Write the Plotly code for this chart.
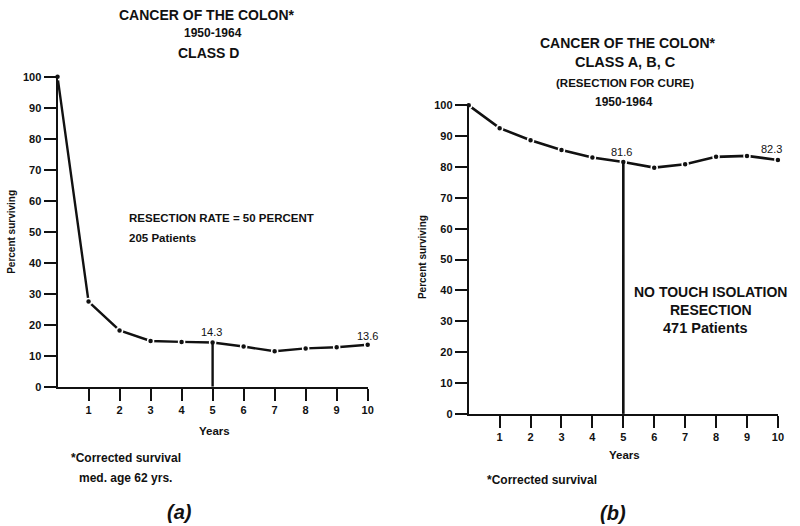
import plotly.graph_objects as go

years = [0, 1, 2, 3, 4, 5, 6, 7, 8, 9, 10]
class_d = [100, 27.5, 18.2, 14.8, 14.5, 14.3, 13.0, 11.5, 12.4, 12.8, 13.6]
class_abc = [100, 92.6, 88.7, 85.5, 83.1, 81.6, 79.8, 80.9, 83.3, 83.6, 82.3]
tick_years = [1, 2, 3, 4, 5, 6, 7, 8, 9, 10]
y_ticks = [0, 10, 20, 30, 40, 50, 60, 70, 80, 90, 100]

FONT = "Liberation Sans"
INK = "#111111"
W, H = 800, 526

# small correction so placed pixels land where wanted in the photographed page
def fx(px):
    return ((px - 0.5) / 0.992) / W

def fy(py):
    return 1 - ((py - 5.7) / 0.977) / H

fig = go.Figure()

def add_series(xa, ya, vals, lw):
    fig.add_trace(go.Scatter(x=years, y=vals, xaxis=xa, yaxis=ya, mode="lines+markers",
                             line=dict(color=INK, width=lw),
                             marker=dict(size=6, color=INK, line=dict(color="white", width=1.5)),
                             showlegend=False, cliponaxis=False))
    # vertical reference at year 5
    fig.add_trace(go.Scatter(x=[years[5], years[5]], y=[0, vals[5]], xaxis=xa, yaxis=ya,
                             mode="lines", line=dict(color=INK, width=lw), showlegend=False))

add_series("x", "y", class_d, 2.4)
add_series("x2", "y2", class_abc, 2.6)

axis_common = dict(showgrid=False, zeroline=False, showline=True, linecolor=INK, linewidth=2,
                   ticks="outside", tickcolor=INK, tickwidth=2, ticklen=12,
                   tickfont=dict(family=FONT, size=11, color=INK, weight="bold"))

fig.update_layout(
    width=W, height=H, margin=dict(l=0, r=0, t=0, b=0),
    paper_bgcolor="white", plot_bgcolor="white",
    xaxis=dict(domain=[fx(58), fx(368)], range=[0, 10], tickvals=tick_years, anchor="y", **axis_common),
    yaxis=dict(domain=[fy(386.5), fy(76.5)], range=[0, 100], tickvals=y_ticks, anchor="x", **axis_common),
    xaxis2=dict(domain=[fx(469), fx(778)], range=[0, 10], tickvals=tick_years, anchor="y2", **axis_common),
    yaxis2=dict(domain=[fy(413.5), fy(105)], range=[0, 100], tickvals=y_ticks, anchor="x2", **axis_common),
)

def txt(x, y, s, size=11, xanchor="center", angle=0, italic=False):
    fig.add_annotation(x=fx(x), y=fy(y), xref="paper", yref="paper", text=s,
                       showarrow=False, xanchor=xanchor, yanchor="middle", textangle=angle,
                       borderpad=0,
                       font=dict(family=FONT, size=size, color=INK, weight="bold",
                                 style="italic" if italic else "normal"))

# Left panel texts
txt(207, 15, "CANCER OF THE COLON*", 14)
txt(213, 33, "1950-1964", 12)
txt(209, 53, "CLASS D", 14)
txt(128, 218, "RESECTION RATE = 50 PERCENT", 11.5, xanchor="left")
txt(128, 238, "205 Patients", 11.5, xanchor="left")
txt(12, 232, "Percent surviving", 10, angle=-90)
txt(215, 431, "Years", 11.5)
txt(126, 458, "*Corrected survival", 12)
txt(126, 478, "med. age 62 yrs.", 12)
txt(180, 512, "(a)", 20, italic=True)

# Right panel texts
txt(628, 43, "CANCER OF THE COLON*", 14)
txt(626, 62, "CLASS A, B, C", 14.5)
txt(625, 83, "(RESECTION FOR CURE)", 11.5)
txt(624, 102, "1950-1964", 12)
txt(711, 292, "NO TOUCH ISOLATION", 14)
txt(711, 310, "RESECTION", 14)
txt(706, 328, "471 Patients", 14.5)
txt(423, 257, "Percent surviving", 10, angle=-90)
txt(625, 455, "Years", 11.5)
txt(542, 480, "*Corrected survival", 12)
txt(613, 513, "(b)", 20, italic=True)

# value labels from data
def val_label(xa, ya, i, vals, xshift=0, yshift=12):
    fig.add_annotation(x=years[i], y=vals[i], xref=xa, yref=ya, text=f"{vals[i]:.1f}",
                       showarrow=False, yshift=yshift, xshift=xshift,
                       font=dict(family=FONT, size=11, color=INK))

val_label("x", "y", 5, class_d, xshift=-1, yshift=11)
val_label("x", "y", 10, class_d, xshift=0, yshift=9)
val_label("x2", "y2", 5, class_abc, xshift=-2, yshift=10)
val_label("x2", "y2", 10, class_abc, xshift=-6, yshift=11)

page_js = (
    "document.documentElement.style.margin='0';"
    "document.documentElement.style.overflow='hidden';"
    "document.body.style.margin='0';"
    "document.body.style.overflow='hidden';"
)
fig.write_html("out.html", config={"displayModeBar": False}, post_script=page_js)
